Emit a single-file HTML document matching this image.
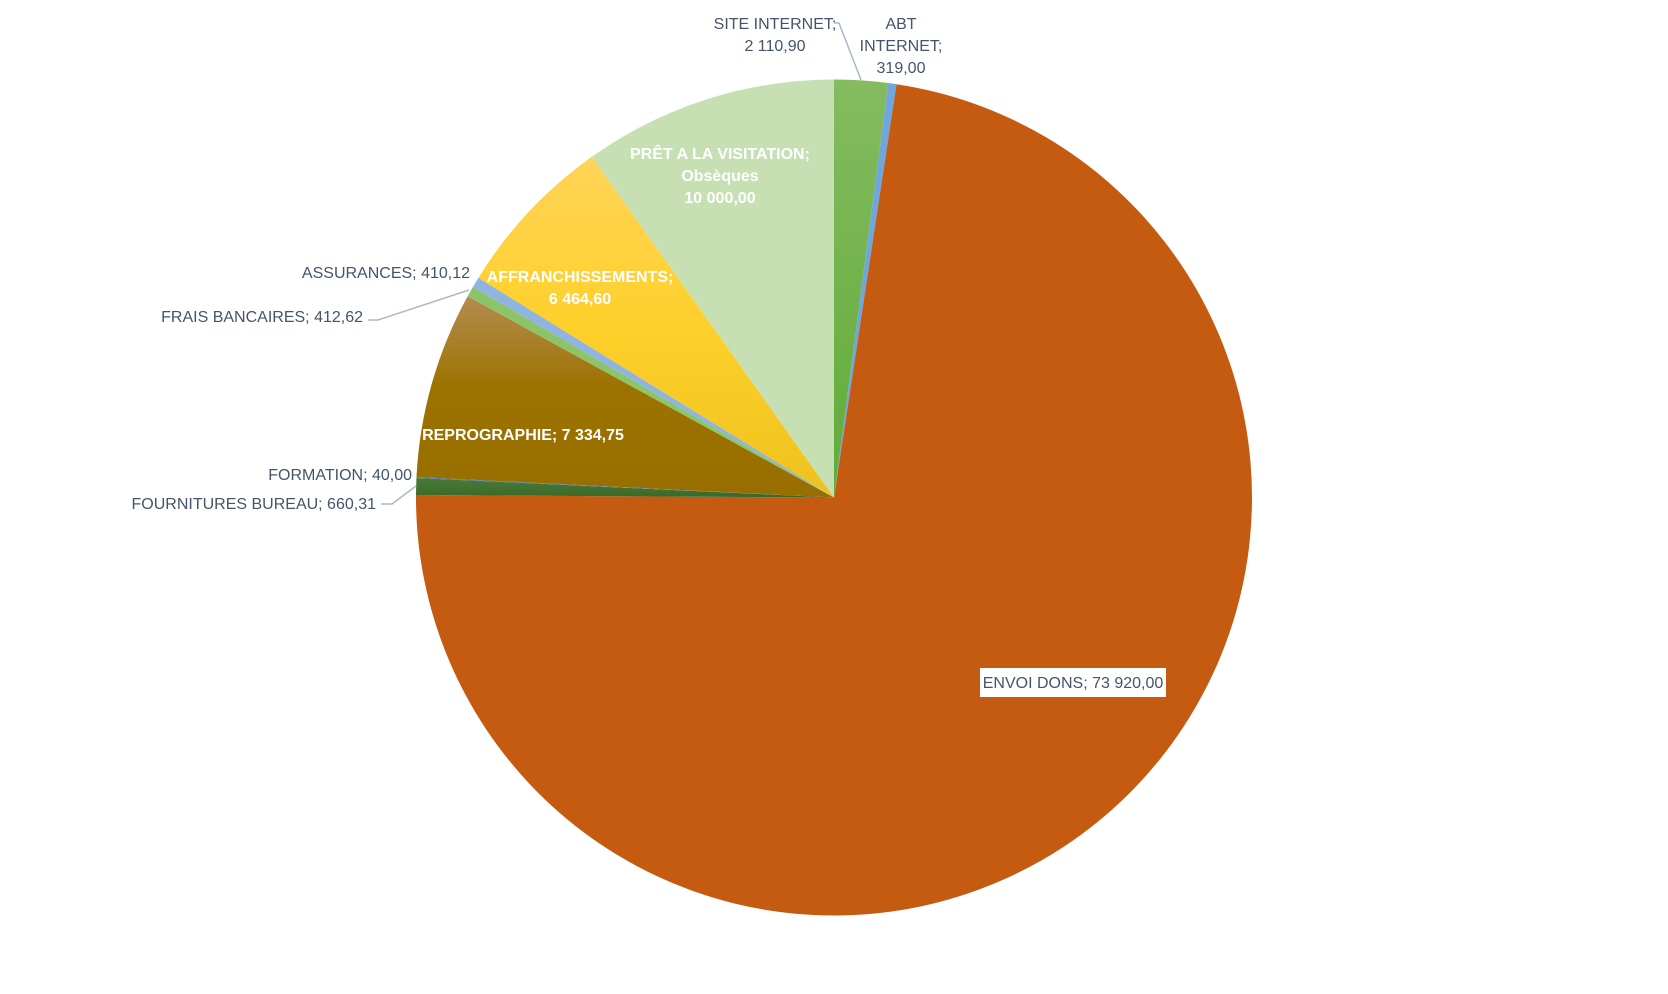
<!DOCTYPE html>
<html><head><meta charset="utf-8"><style>
html,body{margin:0;padding:0;background:#fff;}
svg{display:block;font-family:"Liberation Sans",sans-serif;}
</style></head><body>
<svg id="chart" width="1668" height="994" viewBox="0 0 1668 994">
<defs>
<linearGradient id="gRepro" x1="0" y1="0" x2="0" y2="1"><stop offset="0" stop-color="#b48c50"/><stop offset="0.45" stop-color="#9c7300"/><stop offset="1" stop-color="#986e00"/></linearGradient>
<linearGradient id="gAffr" x1="0" y1="0" x2="0" y2="1"><stop offset="0" stop-color="#ffd458"/><stop offset="0.5" stop-color="#fdd02a"/><stop offset="1" stop-color="#eec21e"/></linearGradient>
<linearGradient id="gSite" x1="0" y1="0" x2="0" y2="1"><stop offset="0" stop-color="#84bb60"/><stop offset="1" stop-color="#60ac38"/></linearGradient>
<linearGradient id="gFourn" x1="0" y1="0" x2="0" y2="1"><stop offset="0" stop-color="#4a7a3a"/><stop offset="1" stop-color="#3a6a28"/></linearGradient>
</defs>
<g id="slices"></g>
<g id="leaders" stroke="#a9b8c8" stroke-width="1.5" fill="none">
<polyline points="834,23 839,23 861,80"/>
<polyline points="368,320 378,320 469,290"/>
<polyline points="381,504 392,504 416,486"/>
</g>
<rect x="980" y="668" width="186" height="29" fill="#fff"/>
<g id="labels" font-size="16" fill="#44546a">
<text x="775" y="29" text-anchor="middle">SITE INTERNET;</text>
<text x="775" y="51" text-anchor="middle">2 110,90</text>
<text x="901" y="29" text-anchor="middle">ABT</text>
<text x="901" y="51" text-anchor="middle">INTERNET;</text>
<text x="901" y="73" text-anchor="middle">319,00</text>
<g fill="#fff" font-weight="bold">
<text x="720" y="159" text-anchor="middle">PRÊT A LA VISITATION;</text>
<text x="720" y="181" text-anchor="middle">Obsèques</text>
<text x="720" y="203" text-anchor="middle">10 000,00</text>
<text x="580" y="282" text-anchor="middle">AFFRANCHISSEMENTS;</text>
<text x="580" y="304" text-anchor="middle">6 464,60</text>
<text x="523" y="440" text-anchor="middle">REPROGRAPHIE; 7 334,75</text>
</g>
<text x="470" y="278" text-anchor="end">ASSURANCES; 410,12</text>
<text x="363" y="322" text-anchor="end">FRAIS BANCAIRES; 412,62</text>
<text x="412" y="480" text-anchor="end">FORMATION; 40,00</text>
<text x="376" y="509" text-anchor="end">FOURNITURES BUREAU; 660,31</text>
<text x="1073" y="688" text-anchor="middle">ENVOI DONS; 73 920,00</text>
</g>
</svg>
<script>
const categories = ["SITE INTERNET","ABT INTERNET","ENVOI DONS","FOURNITURES BUREAU","FORMATION","REPROGRAPHIE","FRAIS BANCAIRES","ASSURANCES","AFFRANCHISSEMENTS","PRÊT A LA VISITATION"];
const values = [2110.90, 319.00, 73920.00, 660.31, 40.00, 7334.75, 412.62, 410.12, 6464.60, 10000.00];
const colors = ["url(#gSite)","#6fa6dc","#c55a11","url(#gFourn)","#5a7fa0","url(#gRepro)","#8cc46a","#8fb4e0","url(#gAffr)","#c6e0b4"];
const cx = 834, cy = 497.5, r = 418;
const total = values.reduce((a,b)=>a+b,0);
function angleOf(v){ return v/total*2*Math.PI; }
function pt(a){ return [cx + r*Math.sin(a), cy - r*Math.cos(a)]; }
const g = document.getElementById('slices');
let a0 = 0;
values.forEach((v,i)=>{
  const a1 = a0 + angleOf(v);
  const p0 = pt(a0), p1 = pt(a1);
  const large = (a1-a0) > Math.PI ? 1 : 0;
  const path = document.createElementNS('http://www.w3.org/2000/svg','path');
  path.setAttribute('d', `M${cx},${cy} L${p0[0]},${p0[1]} A${r},${r} 0 ${large} 1 ${p1[0]},${p1[1]} Z`);
  path.setAttribute('fill', colors[i]);
  
  
  g.appendChild(path);
  a0 = a1;
});
</script>
</body></html>
